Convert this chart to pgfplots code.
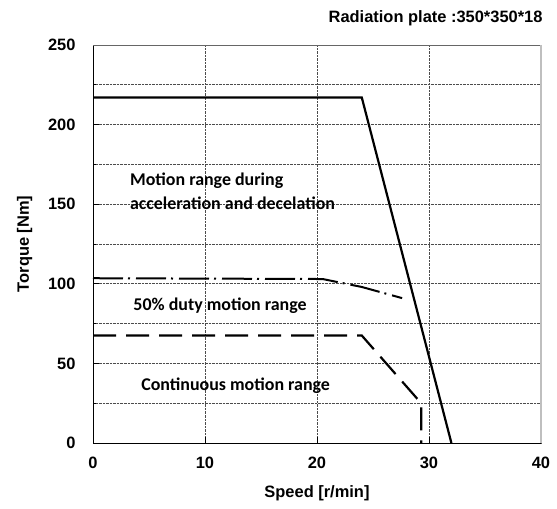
\documentclass[border=0pt]{standalone}
\usepackage{pgfplots}
\pgfplotsset{compat=1.18}
\usepackage{fontspec}
\setmainfont{Liberation Sans}
\newfontfamily\calfont{Carlito}
\begin{document}
\begin{tikzpicture}
\path[use as bounding box] (0,0) rectangle (557bp,509bp);
\begin{axis}[
  at={(93bp,66bp)}, anchor=south west,
  scale only axis, width=448bp, height=398bp,
  xmin=0, xmax=40, ymin=0, ymax=250,
  xtick={0,10,20,30,40},
  ytick={0,50,100,150,200,250},
  extra y ticks={25,75,125,175,225},
  extra y tick labels={},
  extra y tick style={grid=major, major tick length=3bp},
  grid=major,
  major grid style={black!70, densely dotted, line width=0.6pt},
  axis x line*=bottom, axis y line*=left,
  axis line style={black, line width=1pt},
  tick style={black, line width=0.8pt},
  major tick length=6bp,
  tick align=inside,
  ticklabel style={font=\fontsize{16.5}{18}\selectfont\bfseries},
  /pgf/number format/assume math mode=true,
  yticklabel style={xshift=-14bp},
  xticklabel style={yshift=-11bp},
  xlabel={Speed [r/min]},
  ylabel={Torque [Nm]},
  label style={font=\fontsize{16.5}{18}\selectfont\bfseries},
  xlabel style={yshift=-10bp},
  ylabel style={yshift=9bp},
  clip=false,
]
% top and right frame
\draw[black!60, line width=0.8pt] (axis cs:0,250) -- (axis cs:40,250);
\draw[black!25, line width=1.5pt] (axis cs:40,250) -- (axis cs:40,0);
% acceleration / deceleration range
\addplot[black, line width=2.2bp] coordinates {(0,217) (24,217) (32,0)};
% 50% duty
\addplot[black, line width=2bp, dash pattern=on 30bp off 5bp on 2bp off 6bp] coordinates {(0,103.5) (20.5,103) (24,98) (27.6,91)};
% continuous
\addplot[black, line width=2.2bp, dash pattern=on 23bp off 10bp] coordinates {(0,67.5) (24,67.5) (29.3,25) (29.3,0)};
\node[anchor=west, font=\calfont\fontsize{18}{20}\selectfont\bfseries] at (axis cs:3.0,165) {Motion range during};
\node[anchor=west, font=\calfont\fontsize{18}{20}\selectfont\bfseries] at (axis cs:3.0,150.6) {acceleration and decelation};
\node[anchor=west, font=\calfont\fontsize{18}{20}\selectfont\bfseries] at (axis cs:3.3,86) {50\% duty motion range};
\node[anchor=west, font=\calfont\fontsize{18}{20}\selectfont\bfseries] at (axis cs:4.0,36) {Continuous motion range};
\end{axis}
\node[anchor=east, font=\fontsize{16.5}{18}\selectfont\bfseries] at (546bp,491bp) {Radiation plate :350*350*18};
\end{tikzpicture}
\end{document}
